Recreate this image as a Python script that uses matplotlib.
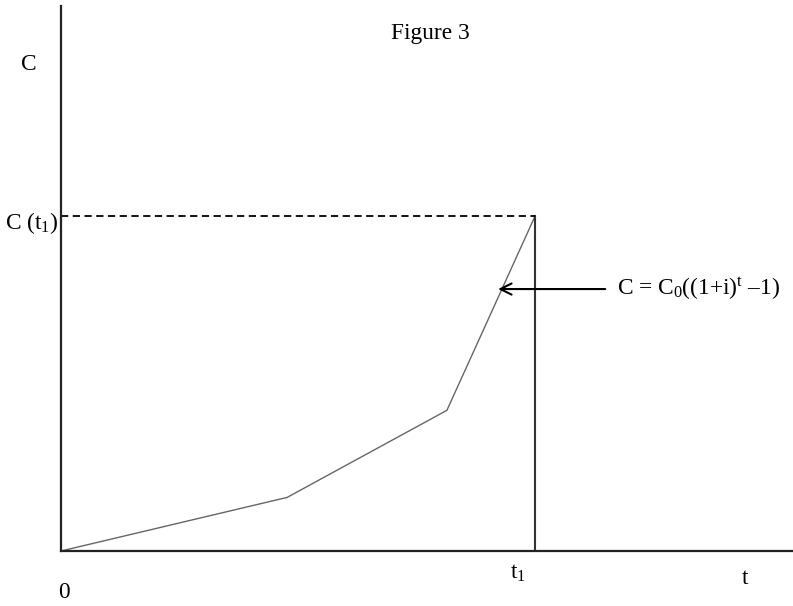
import matplotlib.pyplot as plt

plt.rcParams['font.family'] = ['Liberation Serif', 'DejaVu Serif']
plt.rcParams['mathtext.fontset'] = 'custom'
plt.rcParams['mathtext.rm'] = 'Liberation Serif'
plt.rcParams['mathtext.it'] = 'Liberation Serif:italic'

# curve points (t, C), t1 = 10 and C(t1) = 10
t_vals = [0, 4.77, 8.14, 10]
c_vals = [0, 1.6, 4.2, 10]
t1 = 10
c_t1 = 10
arrow_from = (11.48, 7.82)
arrow_to = (9.22, 7.82)

fig = plt.figure(figsize=(7.93, 6.06), dpi=100)
ax = fig.add_axes([61 / 793, 55 / 606, 732 / 793, 545 / 606])
ax.set_xlim(0, 15.44)
ax.set_ylim(0, 16.27)

for s in ['top', 'right']:
    ax.spines[s].set_visible(False)
for s in ['left', 'bottom']:
    ax.spines[s].set_linewidth(1.6)
    ax.spines[s].set_color('#222222')
ax.set_xticks([])
ax.set_yticks([])

# growth curve
ax.plot(t_vals, c_vals, color='#666666', lw=1.0)
# vertical at t1 and dashed at C(t1)
ax.plot([t1, t1], [0, c_t1], color='#333333', lw=1.5)
ax.plot([0, t1], [c_t1, c_t1], color='black', lw=1.3, ls=(0, (4, 2.5)))

# arrow to the curve
ax.annotate('', xy=arrow_to, xytext=arrow_from,
            arrowprops=dict(arrowstyle='->,head_length=0.8,head_width=0.4',
                            color='black', lw=1.5, shrinkA=0, shrinkB=0))

fs = 16.8
eq = 'C = C$_{\\mathrm{0}}$((1+i)$^{\\mathrm{t}}$ \u20131)'
ax.text(11.72, 7.82, eq, fontsize=fs, va='center', ha='left')
fig.text(430 / 793, 1 - 33 / 606, 'Figure 3', fontsize=fs, ha='center', va='center')
fig.text(29 / 793, 1 - 65 / 606, 'C', fontsize=fs, ha='center', va='center')
fig.text(5 / 793, 1 - 223 / 606, r'C (t$_{\mathrm{1}}$)', fontsize=fs, ha='left', va='center')
fig.text(64 / 793, 1 - 592 / 606, '0', fontsize=fs, ha='center', va='center')
fig.text(518 / 793, 1 - 573 / 606, r't$_{\mathrm{1}}$', fontsize=fs, ha='center', va='center')
fig.text(745 / 793, 1 - 578 / 606, 't', fontsize=fs, ha='center', va='center')

fig.savefig('out.png', dpi=100)
